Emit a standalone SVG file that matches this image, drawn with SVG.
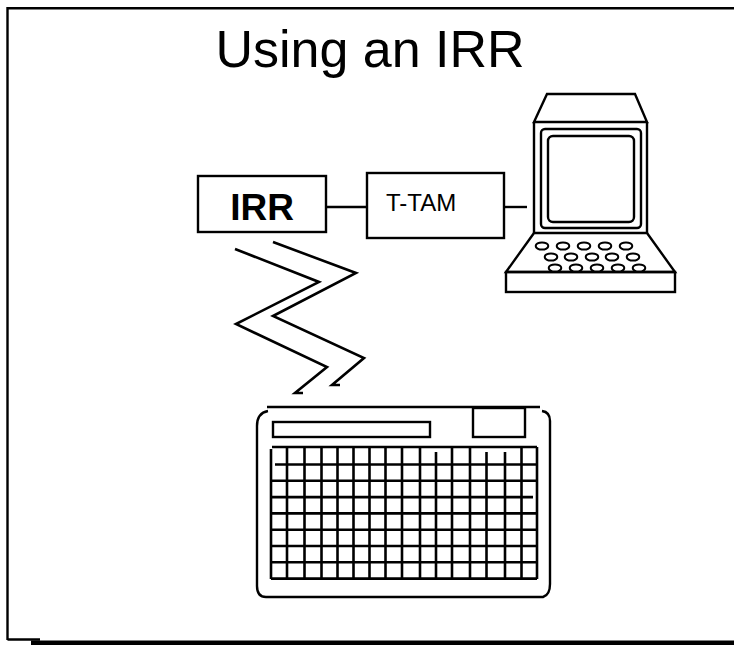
<svg xmlns="http://www.w3.org/2000/svg" width="734" height="645" viewBox="0 0 734 645">
  <style>
    .ln { fill: none; stroke: #000; stroke-width: 2.4; stroke-linejoin: miter; }
    .grid { fill: none; stroke: #000; stroke-width: 2.6; }
    .bolt { fill: none; stroke: #000; stroke-width: 2.6; stroke-linejoin: miter; }
    .key { fill: #fff; stroke: #000; stroke-width: 2; }
    .txt { font-family: "Liberation Sans", Arial, sans-serif; fill: #000; }
  </style>
  <rect x="0" y="0" width="734" height="645" fill="#fff"/>

  <!-- slide frame with drop shadow -->
  <g id="frame">
    <path class="ln" d="M7.5 640 V8.3 H734"/>
    <path class="ln" d="M7.5 639.5 H40"/>
    <rect x="31" y="640.5" width="703" height="4.5" fill="#000"/>
  </g>

  <text id="title" class="txt" x="370" y="67" font-size="52" text-anchor="middle">Using an IRR</text>

  <g id="connectors">
    <line class="ln" x1="326" y1="207" x2="367" y2="207"/>
    <line class="ln" x1="504" y1="207" x2="527" y2="207"/>
  </g>

  <g id="irr">
    <rect class="ln" x="198" y="176" width="128" height="56"/>
    <text class="txt" x="262" y="220" font-size="37" font-weight="bold" text-anchor="middle">IRR</text>
  </g>

  <g id="ttam">
    <rect class="ln" x="367" y="173" width="137" height="65"/>
    <text class="txt" x="386" y="211" font-size="24">T-TAM</text>
  </g>

  <!-- terminal -->
  <g id="terminal">
    <path class="ln" d="M547 94 H635 L647 122 H534 Z"/>
    <path class="ln" d="M534 122 V233 M647 122 V233"/>
    <rect class="ln" x="541" y="129" width="100" height="99" rx="4"/>
    <rect class="ln" x="548" y="136" width="86" height="86" rx="5"/>
    <path class="ln" d="M534 233 H647 L675 272 H506 Z"/>
    <rect class="ln" x="506" y="272" width="169" height="20"/>
    <g>
      <ellipse class="key" cx="542" cy="246" rx="6.3" ry="3.6"/>
      <ellipse class="key" cx="563" cy="246" rx="6.3" ry="3.6"/>
      <ellipse class="key" cx="584" cy="246" rx="6.3" ry="3.6"/>
      <ellipse class="key" cx="605" cy="246" rx="6.3" ry="3.6"/>
      <ellipse class="key" cx="626" cy="246" rx="6.3" ry="3.6"/>
      <ellipse class="key" cx="551" cy="257" rx="6.3" ry="3.6"/>
      <ellipse class="key" cx="571" cy="257" rx="6.3" ry="3.6"/>
      <ellipse class="key" cx="592" cy="257" rx="6.3" ry="3.6"/>
      <ellipse class="key" cx="612" cy="257" rx="6.3" ry="3.6"/>
      <ellipse class="key" cx="633" cy="257" rx="6.3" ry="3.6"/>
      <ellipse class="key" cx="555" cy="268" rx="6.3" ry="3.6"/>
      <ellipse class="key" cx="576" cy="268" rx="6.3" ry="3.6"/>
      <ellipse class="key" cx="597" cy="268" rx="6.3" ry="3.6"/>
      <ellipse class="key" cx="618" cy="268" rx="6.3" ry="3.6"/>
      <ellipse class="key" cx="639" cy="268" rx="6.3" ry="3.6"/>
    </g>
  </g>

  <!-- infrared signal -->
  <g id="signal">
    <path class="bolt" d="M235 249 L319 282 L236 324 L327 367 L295 393 H303"/>
    <path class="bolt" d="M273 242 L356 273 L273 316 L364 358 L332 385 H340"/>
  </g>

  <!-- keypad -->
  <g id="keypad">
    <path class="ln" d="M267 407 H540"/>
    <path class="ln" d="M268 411 Q257 413 257 426 V586 Q257 597 266 597 H543 Q550 595 550 584 V421 Q550 412 542 411"/>
    <rect class="ln" x="273" y="422" width="157" height="15"/>
    <rect class="ln" x="473" y="408" width="52" height="29"/>
    <g>
      <path class="grid" d="M272 447 H537"/>
      <path class="grid" d="M275 464.5 H537"/>
      <path class="grid" d="M271 480.8 H537"/>
      <path class="grid" d="M271 497.1 H533"/>
      <path class="grid" d="M271 513.4 H537"/>
      <path class="grid" d="M271 529.7 H537"/>
      <path class="grid" d="M271 546 H537"/>
      <path class="grid" d="M271 562.3 H537"/>
      <path class="grid" d="M271 578.6 H537"/>
    </g>
    <g>
      <path class="grid" d="M271 449 V579"/>
      <path class="grid" d="M287 447 V579"/>
      <path class="grid" d="M304.5 447 V579"/>
      <path class="grid" d="M321.5 447 V579"/>
      <path class="grid" d="M337.5 447 V579"/>
      <path class="grid" d="M353.5 447 V579"/>
      <path class="grid" d="M369.5 447 V579"/>
      <path class="grid" d="M385.5 447 V579"/>
      <path class="grid" d="M402 447 V579"/>
      <path class="grid" d="M420 447 V579"/>
      <path class="grid" d="M436 452 V579"/>
      <path class="grid" d="M452 447 V579"/>
      <path class="grid" d="M470 447 V579"/>
      <path class="grid" d="M486.5 452 V579"/>
      <path class="grid" d="M505 452 V579"/>
      <path class="grid" d="M521.5 447 V579"/>
      <path class="grid" d="M537 447 V579"/>
    </g>
  </g>
</svg>
